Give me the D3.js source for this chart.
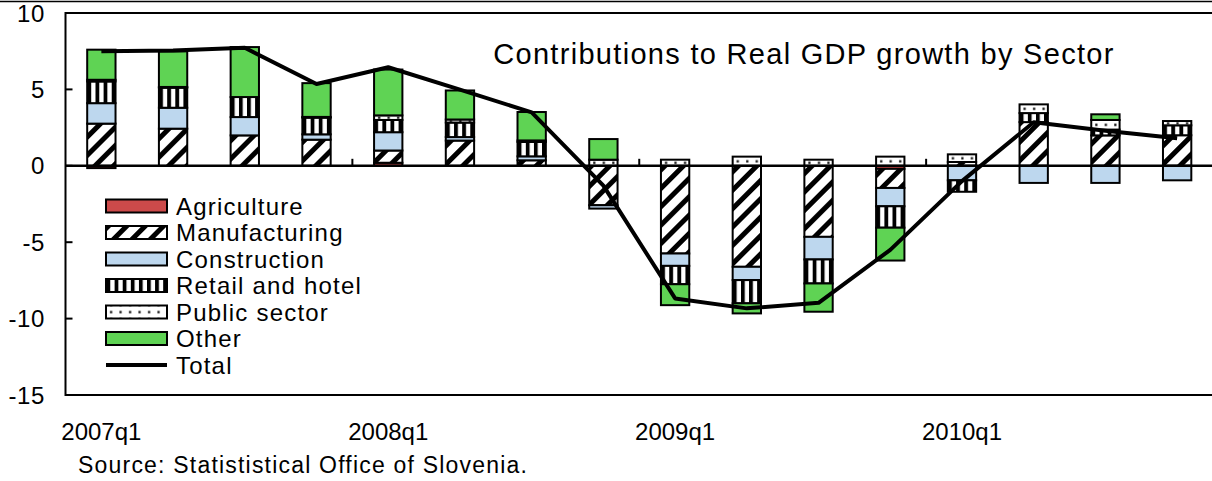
<!DOCTYPE html>
<html><head><meta charset="utf-8">
<script src="https://cdn.jsdelivr.net/npm/d3@7"></script>
<style>html,body{margin:0;padding:0;background:#fff;} svg{display:block;font-family:"Liberation Sans",Arial,sans-serif;}</style>
</head><body><svg id="c" width="1212" height="481"></svg>
<script>
const quarters = ["2007q1","2007q2","2007q3","2007q4","2008q1","2008q2","2008q3","2008q4","2009q1","2009q2","2009q3","2009q4","2010q1","2010q2","2010q3","2010q4"];
const agriculture   = [-0.15, 0, 0, 0, 0.2, 0, 0, 0, 0, 0, 0, -0.2, 0, 0, 0, 0];
const manufacturing = [2.76, 2.43, 1.99, 1.71, 0.8, 1.65, 0.36, -2.58, -5.74, -6.61, -4.65, -1.25, 0.25, 2.86, 1.99, 2.0];
const construction  = [1.34, 1.37, 1.2, 0.35, 1.2, 0.23, 0.26, -0.22, -0.81, -0.87, -1.48, -1.2, -0.95, -1.12, -1.12, -0.95];
const retail        = [1.42, 1.31, 1.31, 1.09, 0.8, 0.95, 0.94, 0, -1.2, -1.52, -1.57, -1.4, -0.75, 0.59, 0.38, 0.65];
const publicSector  = [0.11, 0.05, 0, 0.05, 0.3, 0.2, 0.1, 0.4, 0.4, 0.6, 0.4, 0.6, 0.5, 0.57, 0.63, 0.28];
const other         = [1.97, 2.33, 3.27, 2.21, 3.0, 1.9, 1.86, 1.35, -1.37, -0.66, -1.85, -2.15, 0, 0, 0.37, 0];
const total         = [7.5, 7.55, 7.72, 5.35, 6.45, 4.98, 3.5, -1.3, -8.68, -9.33, -8.97, -5.5, -1.0, 2.85, 2.3, 1.8];
const seriesNames = ["Agriculture","Manufacturing","Construction","Retail and hotel","Public sector","Other"];
const xTickLabels = ["2007q1","2008q1","2009q1","2010q1"];
const yTicks = [-15,-10,-5,0,5,10];
const title = "Contributions to Real GDP growth by Sector";
const source = "Source: Statististical Office of Slovenia.";

(function(){
const seriesValues = [agriculture, manufacturing, construction, retail, publicSector, other];
const rows = quarters.map((q,i)=>{const r={q}; seriesNames.forEach((s,k)=>r[s]=seriesValues[k][i]); return r;});

const svg = d3.select("#c");
const pLeft = 65.5, pRight = 1213, pTop = 13, pBottom = 395;
const x = d3.scaleBand().domain(quarters).range([pLeft, pRight]).paddingInner(0.605).paddingOuter(0.3025);
const y = d3.scaleLinear().domain([-15,10]).range([pBottom, pTop]);
const cx = q => x(q) + x.bandwidth()/2;

const defs = svg.append("defs");
const fills = {
  "Agriculture": "#cc4a4a",
  "Manufacturing": "url(#manuf)",
  "Construction": "#bdd7ee",
  "Retail and hotel": "retail",
  "Public sector": "public",
  "Other": "#5fd354"
};
const pm = defs.append("pattern").attr("id","manuf").attr("patternUnits","userSpaceOnUse")
  .attr("width",13).attr("height",13).attr("patternTransform","rotate(45)");
pm.append("rect").attr("width",13).attr("height",13).attr("fill","#fff");
pm.append("rect").attr("width",5).attr("height",13).attr("fill","#000");

function retailPattern(id, x0, w, h){
  const p = defs.append("pattern").attr("id",id).attr("patternUnits","userSpaceOnUse")
    .attr("x",x0).attr("y",0).attr("width",w).attr("height",h);
  p.append("rect").attr("width",w).attr("height",h).attr("fill","#fff");
  p.append("rect").attr("width",3.8).attr("height",h).attr("fill","#000");
}
function publicPattern(id, x0, y0){
  const p = defs.append("pattern").attr("id",id).attr("patternUnits","userSpaceOnUse")
    .attr("x",x0).attr("y",y0).attr("width",9.5).attr("height",7);
  p.append("rect").attr("width",9.5).attr("height",7).attr("fill","#fff");
  p.append("rect").attr("x",4).attr("y",2.5).attr("width",2.2).attr("height",2.2).attr("fill","#000");
}

svg.append("line").attr("x1",0).attr("x2",1212).attr("y1",1.5).attr("y2",1.5).attr("stroke","#000").attr("stroke-width",1.5);

svg.append("line").attr("x1",pLeft).attr("x2",1212).attr("y1",pTop).attr("y2",pTop).attr("stroke","#000").attr("stroke-width",2);
svg.append("line").attr("x1",pLeft).attr("x2",1212).attr("y1",pBottom).attr("y2",pBottom).attr("stroke","#000").attr("stroke-width",2);
svg.append("line").attr("x1",pLeft).attr("x2",pLeft).attr("y1",pTop-1).attr("y2",pBottom+1).attr("stroke","#000").attr("stroke-width",2);

const yAxis = svg.append("g");
yTicks.forEach(t=>{
  yAxis.append("line").attr("x1",pLeft).attr("x2",pLeft+7).attr("y1",y(t)).attr("y2",y(t)).attr("stroke","#000").attr("stroke-width",2);
  yAxis.append("text").attr("x",45).attr("y",y(t)).attr("dy","0.36em").attr("text-anchor","end")
    .attr("font-size",24).attr("letter-spacing",0.6).text(t);
});

const stack = d3.stack().keys(seriesNames).offset(d3.stackOffsetDiverging);
const stacked = stack(rows);
const barsG = svg.append("g");
stacked.forEach(layer=>{
  layer.forEach((d,i)=>{
    if (Math.abs(d[1]-d[0])<1e-9) return;
    const q = quarters[i];
    const x0 = x(q), w = x.bandwidth();
    const yTop = y(Math.max(d[0],d[1])), yBot = y(Math.min(d[0],d[1]));
    let fill = fills[layer.key];
    if (fill === "retail"){ const id="ret"+i; retailPattern(id, x0+0.2, 8.1, 20); fill=`url(#${id})`; }
    if (fill === "public"){ const id="pub"+i; publicPattern(id, x0, yTop + (yBot-yTop)/2 - 3.5); fill=`url(#${id})`; }
    barsG.append("rect").attr("x",x0).attr("y",yTop).attr("width",w).attr("height",yBot-yTop)
      .attr("fill",fill).attr("stroke","#000").attr("stroke-width",2);
  });
});

svg.append("line").attr("x1",pLeft).attr("x2",1212).attr("y1",y(0)).attr("y2",y(0)).attr("stroke","#000").attr("stroke-width",2.5);
[4,8,12].forEach(i=>{
  const xb = (cx(quarters[i-1]) + cx(quarters[i]))/2;
  svg.append("line").attr("x1",xb).attr("x2",xb).attr("y1",y(0)).attr("y2",y(0)-7).attr("stroke","#000").attr("stroke-width",2);
});
xTickLabels.forEach(l=>{
  svg.append("text").attr("x",cx(l)).attr("y",440).attr("text-anchor","middle").attr("font-size",24).text(l);
});

const line = d3.line().x((d,i)=>cx(quarters[i])).y(d=>y(d));
svg.append("path").datum(total).attr("d",line).attr("fill","none").attr("stroke","#000").attr("stroke-width",4).attr("stroke-linejoin","round");

svg.append("text").attr("x",804).attr("y",63.5).attr("text-anchor","middle").attr("font-size",29).attr("letter-spacing",1.3).text(title);

const lg = svg.append("g");
const ly0 = 206, lstep = 26.5;
seriesNames.forEach((s,k)=>{
  const yy = ly0 + k*lstep;
  let fill = fills[s];
  if (fill === "retail"){ retailPattern("retL", 106.5, 8.1, 20); fill="url(#retL)"; }
  if (fill === "public"){ publicPattern("pubL", 106, yy-3.5); fill="url(#pubL)"; }
  lg.append("rect").attr("x",106).attr("y",yy-6.5).attr("width",61).attr("height",13)
    .attr("fill",fill).attr("stroke","#000").attr("stroke-width",2);
  lg.append("text").attr("x",176).attr("y",yy).attr("dy","0.36em").attr("font-size",24).attr("letter-spacing",1.2).text(s);
});
const ty = ly0 + 6*lstep;
lg.append("line").attr("x1",106).attr("x2",167).attr("y1",ty).attr("y2",ty).attr("stroke","#000").attr("stroke-width",4);
lg.append("text").attr("x",176).attr("y",ty).attr("dy","0.36em").attr("font-size",24).attr("letter-spacing",1.2).text("Total");

svg.append("text").attr("x",78).attr("y",473).attr("font-size",23).attr("letter-spacing",1.2).text(source);
})();
</script></body></html>
